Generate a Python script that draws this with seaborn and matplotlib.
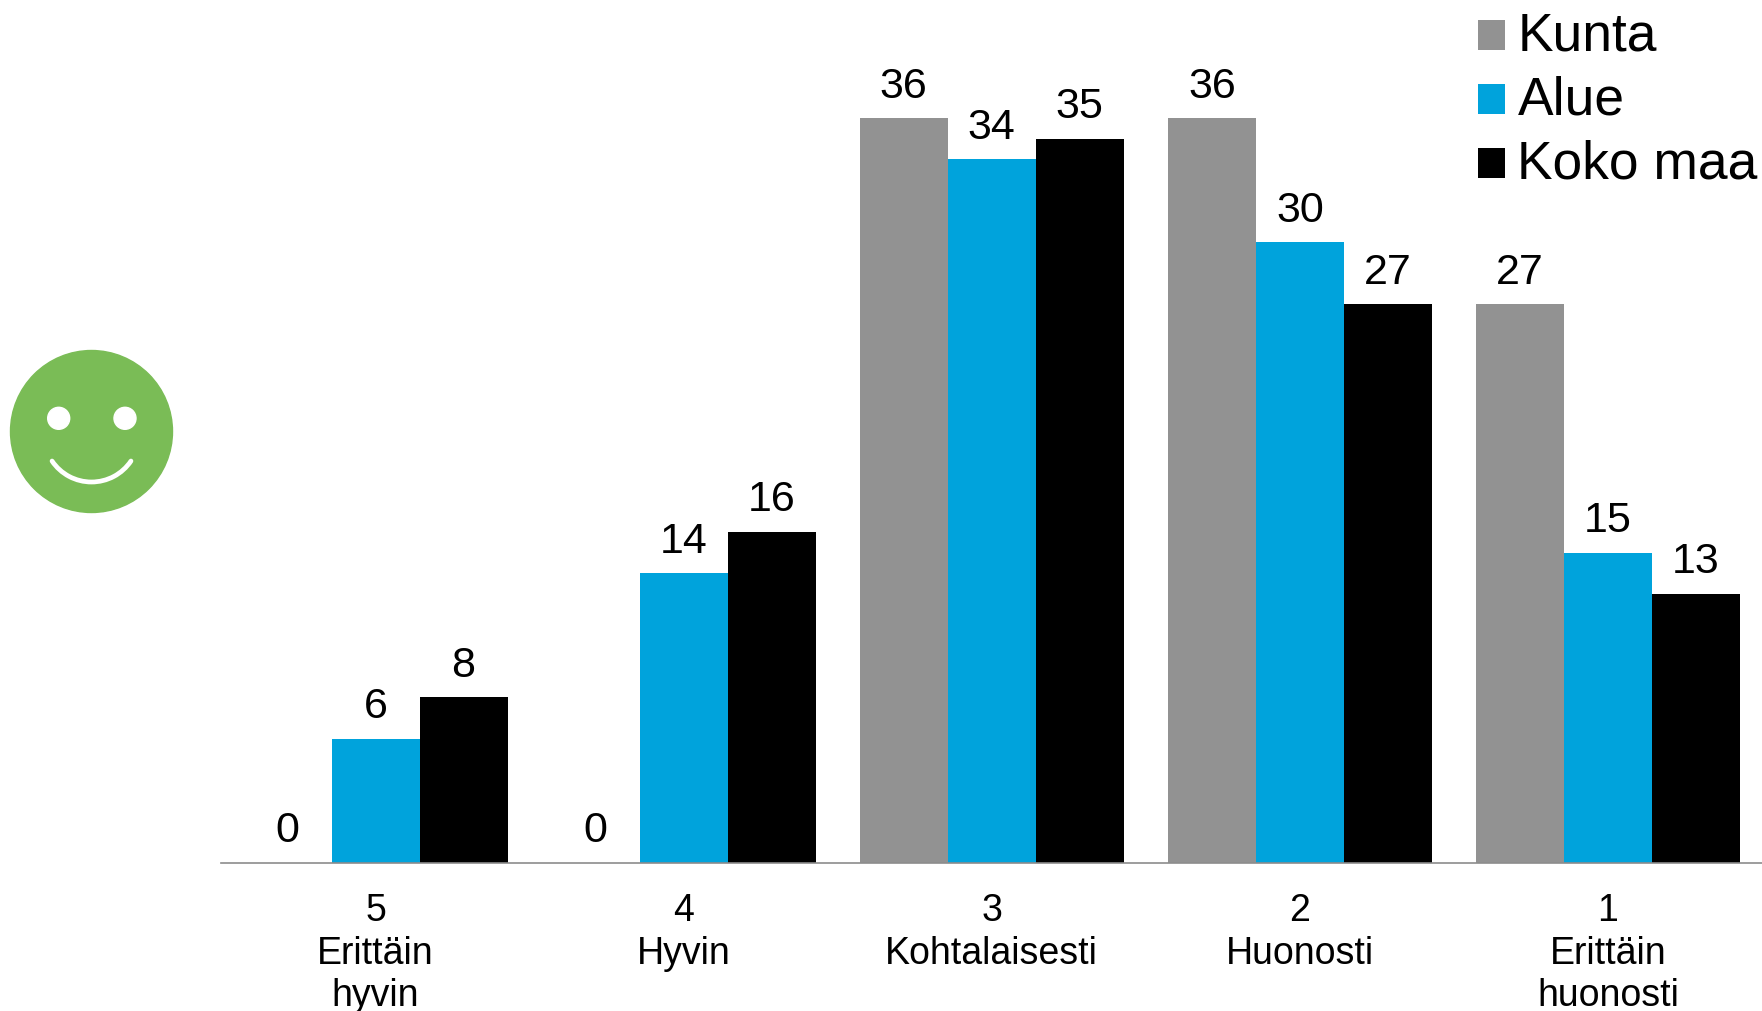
import pandas as pd
import matplotlib.pyplot as plt
import seaborn as sns
from matplotlib.patches import Circle, Arc

# Values
categories = ['5\nErittäin\nhyvin', '4\nHyvin', '3\nKohtalaisesti', '2\nHuonosti', '1\nErittäin\nhuonosti']
kunta = [0, 0, 36, 36, 27]
alue = [6, 14, 34, 30, 15]
koko_maa = [8, 16, 35, 27, 13]
series_names = ['Kunta', 'Alue', 'Koko maa']
series_colors = ['#929292', '#00A3DC', '#000000']

df = pd.DataFrame({'Luokka': categories, 'Kunta': kunta, 'Alue': alue, 'Koko maa': koko_maa})
df = df.melt(id_vars='Luokka', var_name='Sarja', value_name='Arvo')

sns.set_style('white')
plt.rcParams['font.family'] = ['Liberation Sans', 'DejaVu Sans']
plt.rcParams['text.color'] = 'black'
plt.rcParams['xtick.labelcolor'] = 'black'

W, H = 1762, 1012
fig = plt.figure(figsize=(W / 100, H / 100), dpi=100)
ax = fig.add_axes([221.5 / W, 1 - 864 / H, (W - 221.5) / W, (864 - 119) / H])

sns.barplot(data=df, x='Luokka', y='Arvo', hue='Sarja', order=categories, hue_order=series_names,
            palette=series_colors, width=0.857, gap=0, saturation=1, linewidth=0, ax=ax, legend=True)

ax.set_xlim(-0.5, 4.5)
ax.set_ylim(0, 36)
ax.set_xlabel('')
ax.set_ylabel('')
ax.set_yticks([])
sns.despine(ax=ax, left=True)
ax.spines['bottom'].set_color('#8c8c8c')
ax.spines['bottom'].set_linewidth(1.2)
ax.tick_params(axis='x', length=0, pad=21, labelsize=27, labelcolor='black')
for lab in ax.get_xticklabels():
    lab.set_linespacing(1.23)

# data labels
for cont in ax.containers:
    ax.bar_label(cont, fmt='%d', fontsize=31, padding=9, clip_on=False, color='black')

# legend top right
leg = ax.legend(loc='upper left', bbox_to_anchor=(1478 / W, 1 - 11.6 / H), bbox_transform=fig.transFigure,
                frameon=False, fontsize=38.4, handlelength=0.5, handleheight=0.5, handletextpad=0.24,
                labelspacing=0.26, borderpad=0, borderaxespad=0)
# squares sit a bit lower than matplotlib puts them
for patch in leg.get_patches():
    patch.set_y(patch.get_y() - 3.2)

# smiley
face = fig.add_axes([0, 1 - 530 / H, 190 / W, 190 / H])
face.set_xlim(0, 190)
face.set_ylim(190, 0)
face.axis('off')
face.add_patch(Circle((91.5, 92.5), 81, color='#7ABC56'))
face.add_patch(Circle((58.7, 79.3), 11, color='white'))
face.add_patch(Circle((125, 79.3), 11, color='white'))
face.add_patch(Arc((91.5, 95.4), 95.2, 95.2, theta1=34, theta2=146, color='white', lw=3.4, capstyle='round'))

fig.savefig('out.png', dpi=100)
